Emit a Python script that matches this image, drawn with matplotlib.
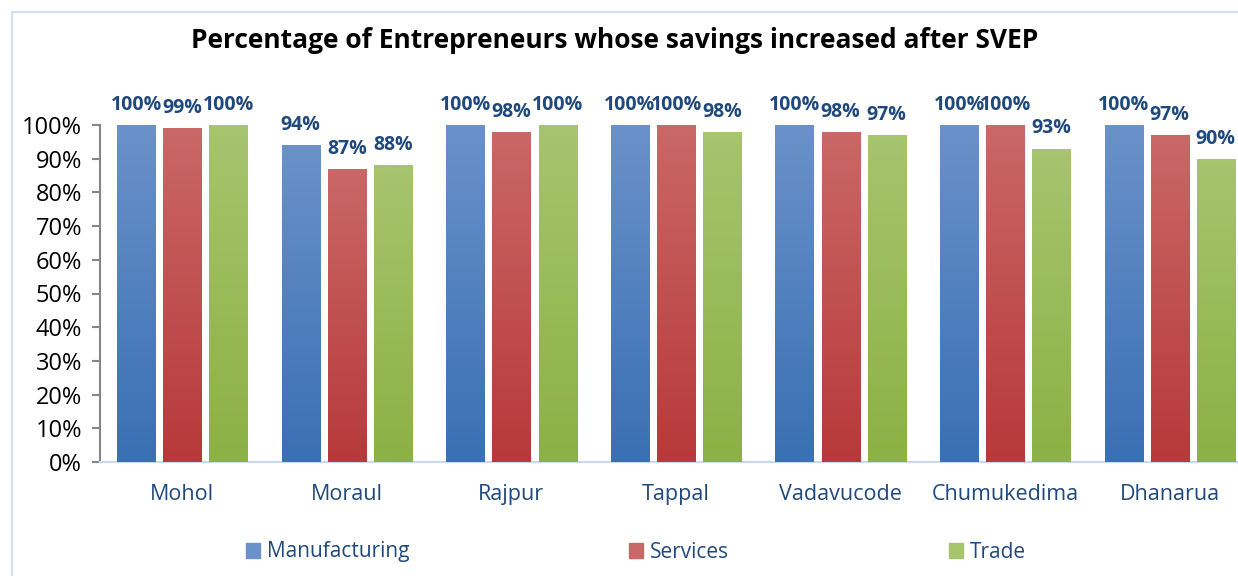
import numpy as np
import matplotlib.pyplot as plt
from matplotlib.patches import Rectangle
from matplotlib.colors import LinearSegmentedColormap

plt.rcParams['font.family'] = ['Open Sans', 'DejaVu Sans']

districts = ['Mohol', 'Moraul', 'Rajpur', 'Tappal', 'Vadavucode', 'Chumukedima', 'Dhanarua']
manufacturing = [100, 94, 100, 100, 100, 100, 100]
services = [99, 87, 98, 100, 98, 100, 97]
trade = [100, 88, 100, 98, 97, 93, 90]

series = [('Manufacturing', manufacturing, '#6a91c9', '#3a70b4'),
          ('Services', services, '#c96866', '#b8393a'),
          ('Trade', trade, '#a7c46e', '#8cb144')]

label_blue = '#1f497d'

fig = plt.figure(figsize=(12.38, 5.76), dpi=100)
# chart border, runs off the right and bottom edges
fig.patches.append(Rectangle((12 / 1238, -0.2), 1.5, 1.2 - 12 / 576,
                             transform=fig.transFigure, fill=False,
                             edgecolor='#c9dbf0', linewidth=1.2))

ax = fig.add_axes([100 / 1238, 1 - 462 / 576, 1152 / 1238, 337 / 576])
x = np.arange(len(districts))
width = 0.231
offsets = [-0.28, 0.0, 0.28]

handles = []
for (name, vals, top, bottom), off in zip(series, offsets):
    cmap = LinearSegmentedColormap.from_list(name, [bottom, top])
    bars = ax.bar(x + off, vals, width, color=top, label=name, zorder=2)
    handles.append(Rectangle((0, 0), 1, 1, color=top))
    for b, v in zip(bars, vals):
        bx, bw = b.get_x(), b.get_width()
        grad = np.linspace(0, 1, 100).reshape(-1, 1)
        im = ax.imshow(grad, cmap=cmap, origin='lower', aspect='auto',
                       extent=[bx, bx + bw, 0, v], zorder=3)
        im.set_clip_path(b)
        ax.text(bx + bw / 2, v + 3, f'{v}%', ha='center', va='bottom',
                fontsize=14, fontweight='bold', color=label_blue, clip_on=False)

ax.set_xlim(-0.5, len(districts) - 0.5)
ax.set_ylim(0, 100)
ax.set_yticks(range(0, 101, 10))
ax.set_yticklabels([f'{t}%' for t in range(0, 101, 10)], fontsize=17, color='black')
ax.set_xticks(x)
ax.set_xticklabels(districts, fontsize=15.5, color=label_blue)
ax.tick_params(axis='x', length=0, pad=16)
ax.tick_params(axis='y', length=6, color='#868686', width=1.5, direction='out', pad=7)
for s in ['top', 'right']:
    ax.spines[s].set_visible(False)
ax.spines['left'].set_color('#868686')
ax.spines['left'].set_linewidth(1.5)
ax.spines['bottom'].set_color('#c9dbf0')
ax.spines['bottom'].set_linewidth(1.5)

fig.text(615 / 1238, 1 - 41 / 576, 'Percentage of Entrepreneurs whose savings increased after SVEP',
         ha='center', va='center', fontsize=19, fontweight='bold', color='black')

fig.legend(handles, [s[0] for s in series], loc='center left',
           bbox_to_anchor=(227 / 1238, 1 - 552 / 576), ncol=3, frameon=False,
           fontsize=15, handlelength=0.7, handleheight=0.7, handletextpad=0.3,
           columnspacing=10.55, labelcolor=label_blue)

fig.savefig('out.png', dpi=100)
